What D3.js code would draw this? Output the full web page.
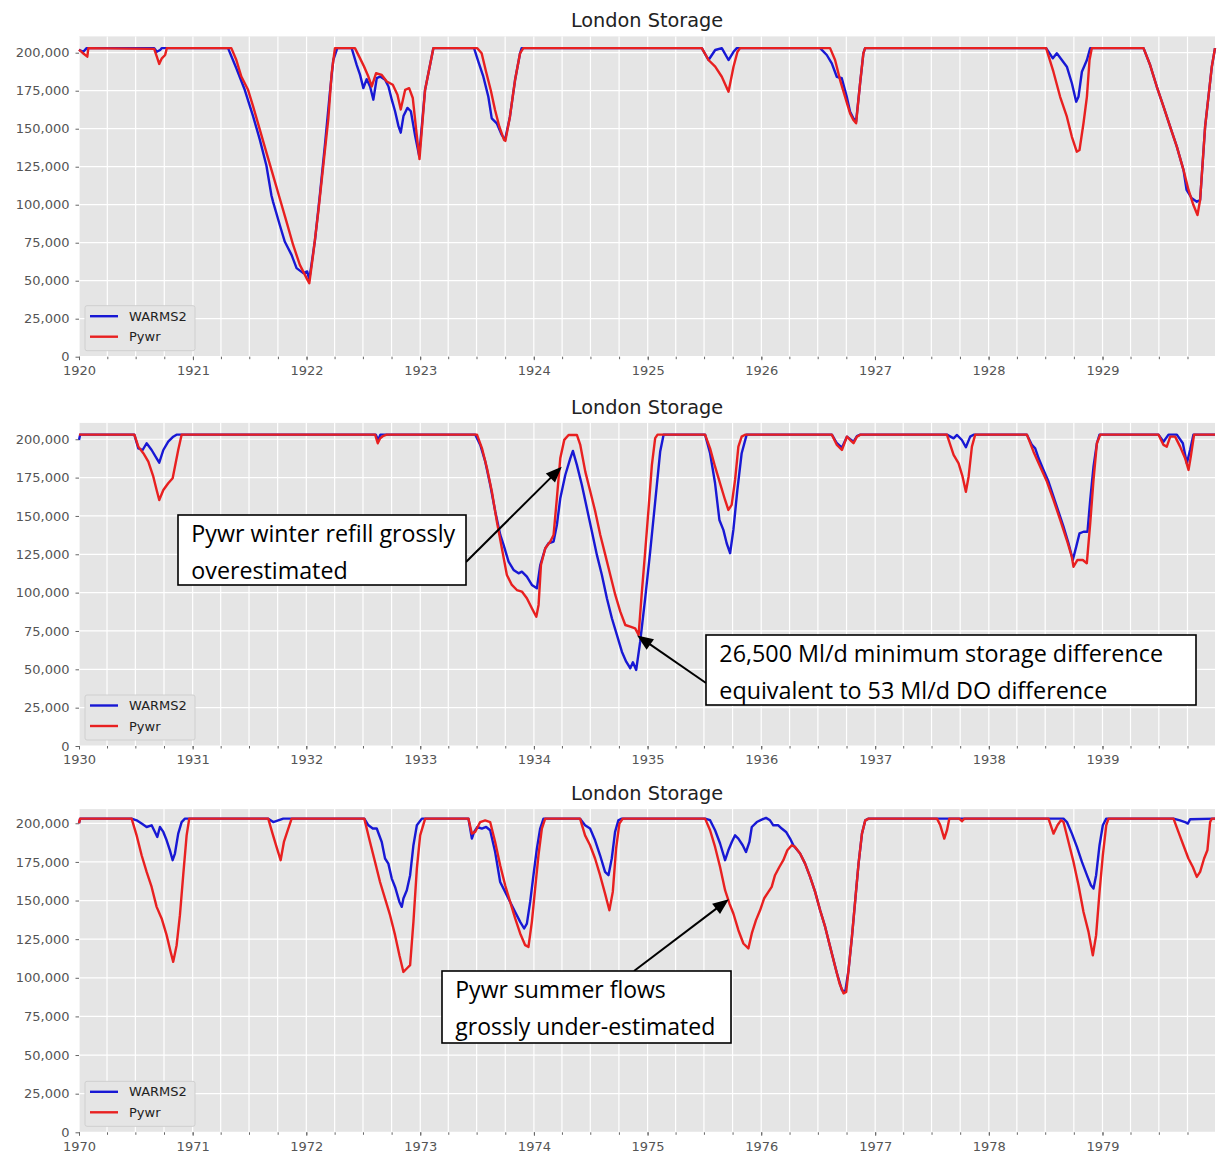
<!DOCTYPE html>
<html>
<head>
<meta charset="utf-8">
<script src="https://cdn.jsdelivr.net/npm/d3@7"></script>
<style>
  body { margin: 0; background: #fff; }
  svg { display: block; }
</style>
</head>
<body>
<svg id="chart" width="1217" height="1153"></svg>
<script>
// storage in thousand Ml, time as decimal years
var warms1920s = [
  [1920.000, 201.8], [1920.038, 200.6], [1920.067, 203], [1920.660, 203], [1920.683, 200.6],
  [1920.712, 201.8], [1920.727, 203], [1921.309, 203], [1921.382, 189.8], [1921.456, 175.6],
  [1921.529, 158.3], [1921.588, 143.0], [1921.647, 125.6], [1921.691, 106.1], [1921.706, 101.7],
  [1921.765, 86.5], [1921.809, 75.6], [1921.868, 67.0], [1921.912, 58.3], [1921.971, 55.0],
  [1922.006, 56.1], [1922.024, 50.7], [1922.074, 76.5], [1922.118, 106.9], [1922.162, 139.5],
  [1922.206, 174.3], [1922.235, 195.2], [1922.271, 203], [1922.397, 203], [1922.441, 192],
  [1922.471, 185.4], [1922.500, 176.7], [1922.529, 182.6], [1922.559, 177.8], [1922.588, 169.1],
  [1922.618, 183.3], [1922.647, 184.3], [1922.691, 182.2], [1922.721, 177.8], [1922.750, 169.1],
  [1922.779, 161.5], [1922.809, 151.7], [1922.829, 147.4], [1922.853, 158.3], [1922.888, 163.7],
  [1922.918, 161.5], [1922.956, 145.2], [1922.991, 132.2], [1923.043, 175.5], [1923.116, 203],
  [1923.474, 203], [1923.512, 194.1], [1923.556, 184.2], [1923.600, 171.0], [1923.630, 156.8],
  [1923.674, 153.5], [1923.718, 145.9], [1923.747, 142.6], [1923.790, 157.9], [1923.835, 182.0],
  [1923.879, 199.6], [1923.893, 203], [1925.476, 203], [1925.535, 195.2], [1925.594, 201.8],
  [1925.652, 203], [1925.711, 195.2], [1925.755, 200.6], [1925.784, 203], [1926.517, 203],
  [1926.576, 198.5], [1926.620, 193], [1926.664, 184.2], [1926.708, 183.2], [1926.752, 171],
  [1926.781, 161.2], [1926.810, 156.8], [1926.834, 154.6], [1926.869, 179.9], [1926.898, 199.6],
  [1926.913, 203], [1928.505, 203], [1928.564, 196.3], [1928.599, 199.6], [1928.643, 195.2],
  [1928.687, 190.8], [1928.731, 179.9], [1928.769, 167.8], [1928.789, 171], [1928.819, 187.5],
  [1928.863, 195.2], [1928.892, 203], [1929.361, 203], [1929.419, 191.9], [1929.478, 177.6],
  [1929.537, 164.5], [1929.595, 151.3], [1929.654, 138.2], [1929.713, 122.8], [1929.740, 109.7],
  [1929.786, 104.2], [1929.830, 102], [1929.859, 103.1], [1929.903, 151.3], [1929.962, 190.8],
  [1929.990, 203]
];
var pywr1920s = [
  [1920.000, 202], [1920.030, 200], [1920.073, 197.4], [1920.082, 203], [1920.660, 202.5],
  [1920.683, 197.4], [1920.704, 192.6], [1920.727, 196.3], [1920.756, 198.5], [1920.771, 203],
  [1921.338, 203], [1921.382, 195.2], [1921.426, 184.3], [1921.485, 175.6], [1921.529, 164.8],
  [1921.588, 149.6], [1921.647, 134.3], [1921.706, 119.1], [1921.765, 103.9], [1921.824, 88.7],
  [1921.882, 73.5], [1921.941, 60.4], [1922.000, 51.7], [1922.024, 48.3], [1922.059, 67.8],
  [1922.103, 95.2], [1922.147, 125.6], [1922.191, 156.1], [1922.221, 186.5], [1922.250, 203],
  [1922.426, 203], [1922.471, 196.3], [1922.506, 190.9], [1922.544, 184.3], [1922.574, 177.8],
  [1922.612, 186.5], [1922.662, 185.4], [1922.706, 181.1], [1922.759, 178.9], [1922.800, 172.4],
  [1922.829, 162.6], [1922.868, 175.6], [1922.903, 176.7], [1922.935, 170.2], [1922.971, 145.2],
  [1922.994, 130], [1923.043, 175.5], [1923.116, 203], [1923.503, 203], [1923.541, 199.6],
  [1923.580, 187.5], [1923.621, 175.5], [1923.659, 162.3], [1923.697, 151.3], [1923.738, 142.6],
  [1923.750, 142], [1923.790, 157.9], [1923.835, 182], [1923.879, 199.6], [1923.908, 203],
  [1925.476, 203], [1925.535, 195.2], [1925.594, 190.8], [1925.652, 184.2], [1925.711, 174.3],
  [1925.755, 190.8], [1925.790, 200.6], [1925.813, 203], [1926.605, 203], [1926.649, 195.2],
  [1926.693, 182], [1926.737, 171], [1926.781, 160.1], [1926.810, 155.7], [1926.834, 153.6],
  [1926.869, 179.9], [1926.898, 199.6], [1926.913, 203], [1928.505, 203], [1928.569, 187.5],
  [1928.628, 171], [1928.687, 157.9], [1928.731, 144.7], [1928.774, 134.9], [1928.798, 136],
  [1928.833, 153.6], [1928.863, 171], [1928.886, 195.2], [1928.906, 203], [1929.361, 203],
  [1929.419, 191.9], [1929.478, 177.6], [1929.537, 164.5], [1929.595, 151.3], [1929.654, 138.2],
  [1929.713, 122.8], [1929.757, 109.7], [1929.800, 99.8], [1929.836, 93.2], [1929.859, 103.1],
  [1929.903, 151.3], [1929.962, 190.8], [1929.990, 203]
];
var warms1930s = [
  [1930.000, 199.5], [1930.010, 203], [1930.487, 203], [1930.522, 194.1], [1930.560, 193],
  [1930.595, 197.4], [1930.639, 193], [1930.683, 187.6], [1930.706, 184.7], [1930.742, 193],
  [1930.785, 198.4], [1930.829, 201.7], [1930.858, 203], [1932.610, 203], [1932.630, 199.5],
  [1932.650, 203], [1933.484, 203], [1933.528, 196.3], [1933.572, 185.4], [1933.616, 170.2],
  [1933.660, 152.8], [1933.704, 137.6], [1933.733, 131.1], [1933.777, 120.2], [1933.821, 114.8],
  [1933.865, 112.6], [1933.894, 113.7], [1933.938, 110.4], [1933.982, 105], [1934.026, 102.8],
  [1934.056, 118], [1934.100, 128.9], [1934.129, 132.2], [1934.173, 133.3], [1934.202, 144.1],
  [1934.232, 161.5], [1934.276, 176.7], [1934.320, 187.6], [1934.343, 192.4], [1934.378, 183.3],
  [1934.422, 170.2], [1934.466, 155], [1934.510, 139.8], [1934.554, 124.6], [1934.598, 111.5],
  [1934.642, 96.3], [1934.686, 83.3], [1934.730, 72.4], [1934.774, 61.5], [1934.812, 55],
  [1934.848, 50.7], [1934.871, 54.6], [1934.900, 49.6], [1934.935, 68], [1934.979, 96.3],
  [1935.023, 126.7], [1935.067, 159.3], [1935.111, 192], [1935.141, 203], [1935.506, 203],
  [1935.550, 190.9], [1935.594, 171.3], [1935.632, 147.4], [1935.667, 140.9], [1935.696, 132.2],
  [1935.726, 125.7], [1935.755, 140.9], [1935.790, 166.9], [1935.828, 190.9], [1935.872, 203],
  [1936.620, 203], [1936.664, 197.4], [1936.708, 194.5], [1936.752, 201.7], [1936.781, 200],
  [1936.810, 198.4], [1936.840, 202], [1936.869, 203], [1937.631, 203], [1937.690, 200.6],
  [1937.720, 202.8], [1937.763, 199.5], [1937.798, 194.8], [1937.836, 201.7], [1937.866, 203],
  [1938.335, 203], [1938.379, 196.3], [1938.408, 194.1], [1938.438, 187.6], [1938.481, 180],
  [1938.525, 172.4], [1938.569, 162.6], [1938.613, 152.8], [1938.657, 143], [1938.701, 132.2],
  [1938.739, 121.3], [1938.769, 130], [1938.798, 138.7], [1938.833, 139.7], [1938.868, 139.7],
  [1938.892, 160.4], [1938.921, 182.1], [1938.951, 197.4], [1938.974, 203], [1939.493, 203],
  [1939.537, 198.4], [1939.581, 203], [1939.654, 203], [1939.707, 197.4], [1939.742, 184.3],
  [1939.771, 193], [1939.800, 203], [1939.990, 203]
];
var pywr1930s = [
  [1930.000, 203], [1930.487, 203], [1930.522, 195.2], [1930.566, 190.9], [1930.610, 185.4],
  [1930.654, 175.6], [1930.683, 166.9], [1930.706, 160.4], [1930.742, 166.9], [1930.785, 171.3],
  [1930.824, 174.6], [1930.844, 182.1], [1930.873, 193], [1930.903, 203], [1932.604, 203],
  [1932.627, 197.4], [1932.648, 200.6], [1932.671, 202], [1932.706, 203], [1933.499, 203],
  [1933.543, 194.1], [1933.587, 181.1], [1933.630, 165.9], [1933.674, 146.3], [1933.718, 128.9],
  [1933.762, 111.5], [1933.806, 105], [1933.850, 101.7], [1933.894, 100.7], [1933.938, 96.3],
  [1933.982, 89.8], [1934.021, 84.3], [1934.041, 92], [1934.062, 118], [1934.100, 128.9],
  [1934.144, 133.3], [1934.173, 137.6], [1934.202, 161.5], [1934.232, 187.6], [1934.267, 199.6],
  [1934.305, 202.8], [1934.378, 202.8], [1934.408, 196.3], [1934.452, 178.9], [1934.496, 165.9],
  [1934.540, 152.8], [1934.584, 137.6], [1934.628, 124.6], [1934.672, 111.5], [1934.716, 98.5],
  [1934.760, 87.6], [1934.804, 78.9], [1934.848, 77.8], [1934.891, 76.7], [1934.921, 72.4],
  [1934.950, 100.7], [1934.979, 126.7], [1935.009, 155], [1935.038, 183.3], [1935.067, 200.7],
  [1935.088, 203], [1935.506, 203], [1935.550, 194.1], [1935.594, 182.1], [1935.638, 171.3],
  [1935.682, 160.4], [1935.711, 153.9], [1935.740, 157.2], [1935.770, 173.5], [1935.799, 195.2],
  [1935.828, 201.7], [1935.858, 203], [1936.620, 203], [1936.664, 196.3], [1936.708, 193],
  [1936.752, 201.7], [1936.781, 199.5], [1936.810, 197.4], [1936.840, 201.7], [1936.869, 203],
  [1937.631, 203], [1937.690, 189.8], [1937.734, 184.3], [1937.769, 175.6], [1937.798, 165.8],
  [1937.822, 175.6], [1937.851, 195.2], [1937.880, 203], [1938.335, 203], [1938.393, 191.9],
  [1938.452, 182.1], [1938.511, 172.4], [1938.569, 160.4], [1938.628, 147.4], [1938.686, 134.3],
  [1938.730, 123.4], [1938.745, 116.9], [1938.780, 121.3], [1938.827, 121.3], [1938.862, 119.1],
  [1938.892, 145.2], [1938.921, 173.5], [1938.951, 197.4], [1938.980, 203], [1939.493, 203],
  [1939.537, 196.3], [1939.566, 195.2], [1939.596, 201.7], [1939.639, 201.7], [1939.683, 195.2],
  [1939.727, 187.6], [1939.757, 180], [1939.777, 188.7], [1939.806, 203], [1939.990, 203]
];
var warms1970s = [
  [1970.000, 200], [1970.010, 203], [1970.463, 203], [1970.507, 201.9], [1970.551, 199.8],
  [1970.595, 197.6], [1970.639, 198.7], [1970.668, 194.4], [1970.689, 191.1], [1970.712, 197.6],
  [1970.742, 194.4], [1970.771, 189], [1970.800, 182.5], [1970.824, 176.1], [1970.844, 180.4],
  [1970.873, 193.3], [1970.903, 200.8], [1970.932, 203], [1971.665, 203], [1971.709, 200.8],
  [1971.753, 201.9], [1971.797, 203], [1972.509, 203], [1972.545, 198.7], [1972.583, 196.6],
  [1972.618, 196.6], [1972.662, 187.9], [1972.691, 177.2], [1972.720, 173.9], [1972.750, 164.2],
  [1972.779, 158.8], [1972.817, 149.1], [1972.838, 145.9], [1972.852, 151.3], [1972.882, 156.7],
  [1972.911, 166.4], [1972.940, 185.8], [1972.970, 198.7], [1973.014, 203], [1973.424, 203],
  [1973.454, 190.1], [1973.474, 194.4], [1973.503, 197.6], [1973.542, 196.6], [1973.580, 197.6],
  [1973.615, 195.5], [1973.659, 181.4], [1973.703, 162], [1973.747, 155.6], [1973.791, 149.1],
  [1973.835, 142.6], [1973.879, 136.2], [1973.914, 131.9], [1973.938, 135.1], [1973.967, 149.1],
  [1973.996, 166.4], [1974.026, 183.6], [1974.055, 196.6], [1974.084, 203], [1974.406, 203],
  [1974.450, 198.7], [1974.494, 196.6], [1974.538, 189], [1974.582, 179.3], [1974.626, 168.5],
  [1974.656, 166.4], [1974.685, 177.2], [1974.714, 194.4], [1974.743, 201.9], [1974.773, 203],
  [1975.506, 203], [1975.550, 202], [1975.594, 195.5], [1975.638, 186.9], [1975.682, 176.1],
  [1975.711, 182.5], [1975.741, 187.9], [1975.770, 192.2], [1975.799, 190.1], [1975.837, 185.8],
  [1975.866, 181.4], [1975.896, 187.9], [1975.917, 197.6], [1975.961, 200.8], [1976.004, 202.4],
  [1976.042, 203.5], [1976.077, 201.9], [1976.106, 198.7], [1976.150, 198.7], [1976.180, 196.6],
  [1976.218, 194.4], [1976.253, 190.1], [1976.282, 185.8], [1976.341, 180.4], [1976.385, 173.9],
  [1976.429, 165.3], [1976.473, 155.6], [1976.517, 143.7], [1976.561, 132.9], [1976.605, 120],
  [1976.664, 103], [1976.708, 92], [1976.737, 90.9], [1976.766, 104.9], [1976.796, 126.5],
  [1976.825, 150.2], [1976.854, 173.9], [1976.884, 193.3], [1976.913, 201.9], [1976.942, 203],
  [1978.657, 203], [1978.687, 200.8], [1978.731, 193.3], [1978.775, 184.7], [1978.819, 175],
  [1978.863, 166.4], [1978.898, 159.9], [1978.921, 157.8], [1978.944, 166.4], [1978.974, 185.8],
  [1979.003, 198.7], [1979.033, 203], [1979.625, 203], [1979.682, 201.9], [1979.726, 200.8],
  [1979.751, 199.8], [1979.771, 202.6], [1979.990, 203]
];
var pywr1970s = [
  [1970.000, 200], [1970.010, 203], [1970.463, 203], [1970.507, 192.2], [1970.551, 179.3],
  [1970.595, 168.5], [1970.639, 158.8], [1970.683, 145.9], [1970.727, 138.4], [1970.771, 127.6],
  [1970.806, 116.8], [1970.829, 110.3], [1970.859, 121.1], [1970.888, 140.5], [1970.917, 166.4],
  [1970.947, 192.2], [1970.970, 203], [1971.665, 203], [1971.703, 193.3], [1971.738, 184.7],
  [1971.774, 176.1], [1971.803, 187.9], [1971.832, 194.4], [1971.871, 203], [1972.509, 203],
  [1972.559, 187.9], [1972.603, 175], [1972.647, 162], [1972.691, 151.3], [1972.735, 140.5],
  [1972.779, 127.6], [1972.817, 114.6], [1972.852, 103.8], [1972.882, 106], [1972.911, 108.2],
  [1972.940, 136.2], [1972.970, 170.7], [1972.999, 192.2], [1973.043, 203], [1973.424, 203],
  [1973.454, 193.3], [1973.483, 194.4], [1973.527, 200.8], [1973.571, 201.9], [1973.615, 200.8],
  [1973.659, 187.9], [1973.703, 172.8], [1973.747, 159.9], [1973.791, 149.1], [1973.835, 138.4],
  [1973.879, 128.7], [1973.923, 121.1], [1973.952, 120], [1973.982, 136.2], [1974.011, 157.8],
  [1974.040, 179.3], [1974.070, 196.6], [1974.099, 203], [1974.406, 203], [1974.450, 192.2],
  [1974.494, 185.8], [1974.538, 177.2], [1974.582, 166.4], [1974.626, 154.5], [1974.664, 143.7],
  [1974.694, 155.6], [1974.723, 183.6], [1974.752, 199.8], [1974.782, 203], [1975.506, 203],
  [1975.550, 195.5], [1975.594, 184.7], [1975.638, 171.7], [1975.682, 156.7], [1975.720, 148.1],
  [1975.755, 141.6], [1975.799, 130.8], [1975.843, 122.2], [1975.887, 119], [1975.917, 128.7],
  [1975.954, 137.3], [1975.990, 143.7], [1976.025, 151.3], [1976.063, 155.6], [1976.092, 158.8],
  [1976.121, 166.4], [1976.159, 171.7], [1976.194, 176.1], [1976.229, 182.5], [1976.268, 185.8],
  [1976.297, 184.7], [1976.341, 180.4], [1976.385, 173.9], [1976.429, 165.3], [1976.473, 155.6],
  [1976.517, 143.7], [1976.561, 132.9], [1976.605, 120], [1976.649, 107.1], [1976.687, 96.3],
  [1976.722, 89.9], [1976.746, 90.9], [1976.766, 104.9], [1976.796, 126.5], [1976.825, 150.2],
  [1976.854, 173.9], [1976.884, 193.3], [1976.913, 201.9], [1976.942, 203], [1977.544, 203],
  [1977.573, 198.7], [1977.608, 190.1], [1977.632, 195.5], [1977.652, 203], [1977.740, 203],
  [1977.763, 201.3], [1977.785, 203], [1978.525, 203], [1978.569, 193.3], [1978.604, 198.7],
  [1978.634, 201.9], [1978.657, 200.8], [1978.701, 187.9], [1978.745, 175], [1978.789, 159.9],
  [1978.833, 142.6], [1978.877, 129.7], [1978.915, 114.6], [1978.944, 127.6], [1978.974, 155.6],
  [1979.003, 179.3], [1979.033, 198.7], [1979.053, 203], [1979.625, 203], [1979.668, 194.4],
  [1979.712, 185.8], [1979.756, 177.2], [1979.795, 171.7], [1979.830, 165.3], [1979.859, 168.5],
  [1979.894, 177.2], [1979.923, 182.5], [1979.947, 200.8], [1979.962, 203], [1979.990, 203]
];

var seriesNames = ["WARMS2", "Pywr"];
var seriesColors = ["#1818d4", "#e82020"];
var yTickValues = [0, 25000, 50000, 75000, 100000, 125000, 150000, 175000, 200000];
var panelTitle = "London Storage";

// annotation texts and the points they point at ([decimal year, thousand Ml])
var noteTexts = [
  ["Pywr winter refill grossly", "overestimated"],
  ["26,500 Ml/d minimum storage difference", "equivalent to 53 Ml/d DO difference"],
  ["Pywr summer flows", "grossly under-estimated"]
];
var noteTargets = [[1934.245, 182.1], [1934.908, 72.1], [1975.715, 150.9]];

// ---- layout ----
var plotLeft = 79, plotRight = 1215;
var panels = [
  {warms: warms1920s, pywr: pywr1920s, top: 36.4, height: 320.3, labelY: 13.7},
  {warms: warms1930s, pywr: pywr1930s, top: 422.9, height: 323.1, labelY: 13.7},
  {warms: warms1970s, pywr: pywr1970s, top: 809.1, height: 323.2, labelY: 13.7}
];
// box [x, y, w, h], arrow tail, width of the widest text line
var notes = [
  {panel: 1, box: [178, 515, 288, 70], tail: [466, 562], textWidth: 264},
  {panel: 1, box: [706, 635, 490, 70], tail: [706, 683], textWidth: 444},
  {panel: 2, box: [442, 971, 289, 72], tail: [634, 971], textWidth: 260}
];

function toDate(t) {
  var yr = Math.floor(t), a = Date.UTC(yr, 0, 1), b = Date.UTC(yr + 1, 0, 1);
  return new Date(a + (t - yr) * (b - a));
}

var svg = d3.select("#chart");
var tickFont = "'DejaVu Sans', sans-serif";
var scales = [];

panels.forEach(function(p, i) {
  var bottom = p.top + p.height;
  var x = d3.scaleUtc()
      .domain([toDate(p.warms[0][0]), toDate(p.warms[p.warms.length - 1][0])])
      .range([plotLeft, plotRight]);
  var vals = p.warms.concat(p.pywr).map(function(d) { return d[1]; });
  var lo = d3.min(vals), hi = d3.max(vals);
  var y = d3.scaleLinear()
      .domain([0, (hi + 0.05 * (hi - lo)) * 1000])
      .range([bottom, p.top]);
  scales.push({x: x, y: y});

  var g = svg.append("g");

  g.append("rect")
      .attr("x", plotLeft).attr("y", p.top)
      .attr("width", plotRight - plotLeft).attr("height", p.height)
      .attr("fill", "#e5e5e5");

  // grid
  g.append("g").selectAll("line")
      .data(x.ticks(d3.utcMonth.every(3)))
    .enter().append("line")
      .attr("x1", function(d) { return x(d); }).attr("x2", function(d) { return x(d); })
      .attr("y1", p.top).attr("y2", bottom)
      .attr("stroke", "#fff").attr("stroke-width", 1.2);
  g.append("g").selectAll("line")
      .data(yTickValues)
    .enter().append("line")
      .attr("x1", plotLeft).attr("x2", plotRight)
      .attr("y1", function(d) { return y(d); }).attr("y2", function(d) { return y(d); })
      .attr("stroke", "#fff").attr("stroke-width", 1.2);

  // series
  var line = d3.line()
      .x(function(d) { return x(toDate(d[0])); })
      .y(function(d) { return y(d[1] * 1000); });
  [p.warms, p.pywr].forEach(function(s, k) {
    g.append("path")
        .datum(s)
        .attr("d", line)
        .attr("fill", "none")
        .attr("stroke", seriesColors[k])
        .attr("stroke-width", 2.4)
        .attr("stroke-linejoin", "round");
  });

  // axes
  var yAx = g.append("g")
      .attr("transform", "translate(" + plotLeft + ",0)")
      .call(d3.axisLeft(y).tickValues(yTickValues).tickFormat(d3.format(",")).tickSize(3.5).tickPadding(6));
  var xMinor = g.append("g")
      .attr("transform", "translate(0," + bottom + ")")
      .call(d3.axisBottom(x).ticks(d3.utcMonth.every(3)).tickFormat("").tickSize(2.5));
  var xAx = g.append("g")
      .attr("transform", "translate(0," + bottom + ")")
      .call(d3.axisBottom(x).ticks(d3.utcYear.every(1)).tickFormat(d3.utcFormat("%Y")).tickSize(3.5));
  xAx.selectAll("text").attr("y", p.labelY).attr("dy", "0.36em");
  [yAx, xMinor, xAx].forEach(function(a) {
    a.select(".domain").remove();
    a.selectAll("line").attr("stroke", "#666");
    a.selectAll("text")
        .attr("fill", "#555")
        .style("font-family", tickFont)
        .style("font-size", "13px");
  });

  // title
  g.append("text")
      .attr("x", (plotLeft + plotRight) / 2)
      .attr("y", p.top - 9.3)
      .attr("text-anchor", "middle")
      .style("font-family", tickFont)
      .style("font-size", "19.3px")
      .attr("fill", "#222")
      .text(panelTitle);

  // legend
  var lg = g.append("g").attr("transform", "translate(85," + (bottom - 51) + ")");
  lg.append("rect")
      .attr("width", 110).attr("height", 45).attr("rx", 2)
      .attr("fill", "#e5e5e5").attr("stroke", "#cfcfcf");
  seriesNames.forEach(function(name, k) {
    var ly = 10.5 + k * 20.5;
    lg.append("line")
        .attr("x1", 5).attr("x2", 33).attr("y1", ly).attr("y2", ly)
        .attr("stroke", seriesColors[k]).attr("stroke-width", 2.4);
    lg.append("text")
        .attr("x", 44).attr("y", ly).attr("dy", "0.36em")
        .style("font-family", tickFont).style("font-size", "13px")
        .attr("fill", "#222")
        .text(name);
  });
});

// annotations
notes.forEach(function(n, i) {
  var s = scales[n.panel];
  var g = svg.append("g");
  var tip = [s.x(toDate(noteTargets[i][0])), s.y(noteTargets[i][1] * 1000)];
  var dx = tip[0] - n.tail[0], dy = tip[1] - n.tail[1];
  var len = Math.sqrt(dx * dx + dy * dy), ux = dx / len, uy = dy / len;
  var hl = 16, hw = 6.5;
  var bx = tip[0] - ux * hl, by = tip[1] - uy * hl;
  g.append("line")
      .attr("x1", n.tail[0]).attr("y1", n.tail[1])
      .attr("x2", bx + ux * 2).attr("y2", by + uy * 2)
      .attr("stroke", "#000").attr("stroke-width", 2);
  g.append("path")
      .attr("d", "M" + tip[0] + "," + tip[1] +
        "L" + (bx - uy * hw) + "," + (by + ux * hw) +
        "L" + (bx + uy * hw) + "," + (by - ux * hw) + "Z")
      .attr("fill", "#000");

  g.append("rect")
      .attr("x", n.box[0]).attr("y", n.box[1])
      .attr("width", n.box[2]).attr("height", n.box[3])
      .attr("fill", "#fff").attr("stroke", "#000").attr("stroke-width", 1.6);
  var texts = noteTexts[i].map(function(t, k) {
    return g.append("text")
        .attr("x", n.box[0] + 13.3)
        .attr("y", n.box[1] + 27 + k * 36.5)
        .style("font-family", "'Open Sans', sans-serif")
        .style("font-size", "22px")
        .attr("fill", "#000")
        .text(t);
  });
  // size the font so the widest line spans the same width as in the picture
  var widest = d3.max(texts, function(t) { return t.node().getComputedTextLength(); });
  var size = 22 * n.textWidth / widest;
  texts.forEach(function(t) { t.style("font-size", size + "px"); });
});
</script>
</body>
</html>
